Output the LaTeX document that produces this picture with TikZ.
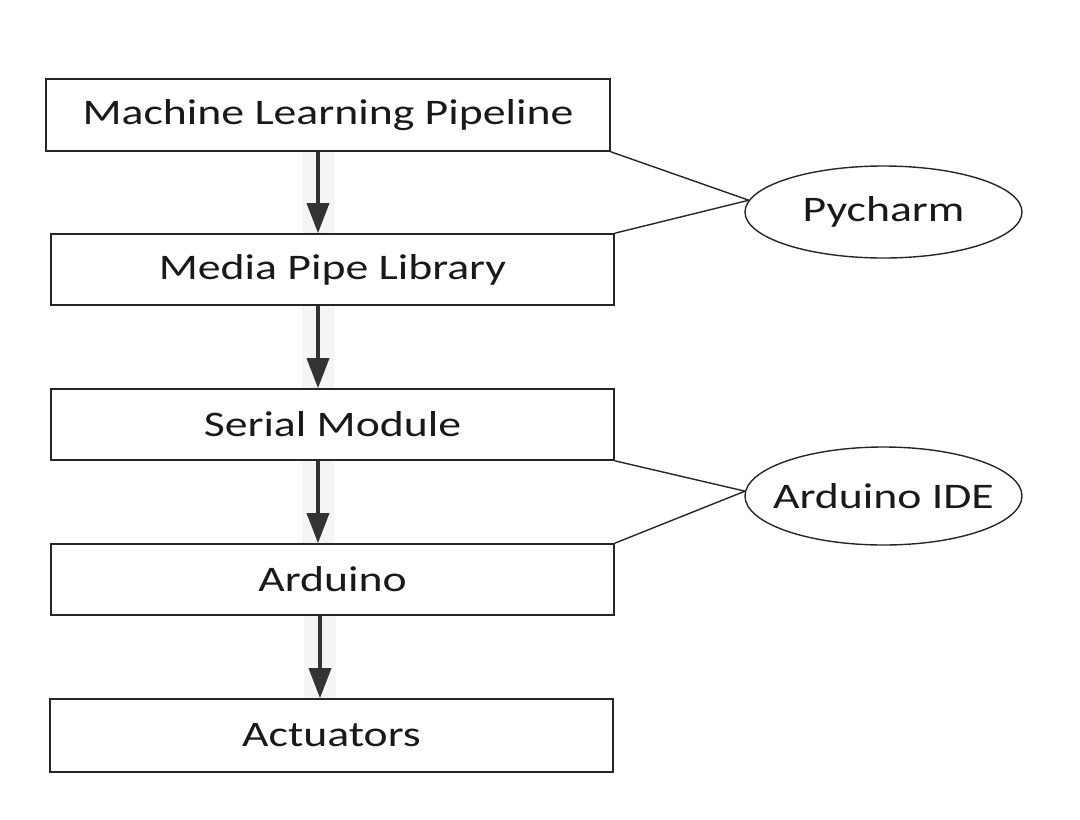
\documentclass[tikz,border=0pt]{standalone}
\usepackage{fontspec}
\setmainfont{Carlito}[FakeStretch=1.27]
\usetikzlibrary{arrows.meta,shapes.geometric,backgrounds}

\begin{document}
\begin{tikzpicture}[x=1pt, y=-1pt,
    every node/.style={font=\fontsize{36}{43}\selectfont, text=black!90},
    stage/.style={draw=black!85, line width=1.6pt, minimum width=563pt, minimum height=71pt, inner sep=0pt},
    tool/.style={ellipse, draw=black!85, line width=1.4pt, minimum width=277pt, inner xsep=-14pt, inner ysep=0pt},
    flow/.style={line width=3.5pt, black!80, -{Triangle[length=30pt,width=22pt]}},
    glow/.style={line width=32pt, black!4},
    link/.style={line width=1.4pt, black!85}]
\useasboundingbox (0,0) rectangle (1080,820);
\node (ml) at (328,115) [stage, minimum width=564pt, minimum height=72pt] {Machine Learning Pipeline};
\node (mp) at (332.5,269.5) [stage] {Media Pipe Library};
\node (sm) at (332.5,424.5) [stage] {Serial Module};
\node (ard) at (332.5,579.5) [stage] {Arduino};
\node (act) at (331.5,735.5) [stage, minimum height=73pt] {Actuators};
\node (pyc) at (883.5,212) [tool, minimum height=92pt] {Pycharm};
\node (ide) at (883.5,496) [tool, minimum height=98pt] {Arduino IDE};

% faint shading behind the arrows
\begin{scope}[on background layer]
\draw[glow] ([xshift=-10pt]ml.south) -- ([xshift=-14.5pt]mp.north);
\draw[glow] ([xshift=-14.5pt]mp.south) -- ([xshift=-14.5pt]sm.north);
\draw[glow] ([xshift=-14.5pt]sm.south) -- ([xshift=-14.5pt]ard.north);
\draw[glow] ([xshift=-12.5pt]ard.south) -- ([xshift=-11.5pt]act.north);
\end{scope}

\draw[flow] ([xshift=-10pt]ml.south) -- ([xshift=-14.5pt]mp.north);
\draw[flow] ([xshift=-14.5pt]mp.south) -- ([xshift=-14.5pt]sm.north);
\draw[flow] ([xshift=-14.5pt]sm.south) -- ([xshift=-14.5pt]ard.north);
\draw[flow] ([xshift=-12.5pt]ard.south) -- ([xshift=-11.5pt]act.north);

\draw[link] (ml.south east) -- (pyc.175);
\draw[link] (mp.north east) -- (pyc.175);
\draw[link] (sm.south east) -- (ide.178);
\draw[link] (ard.north east) -- (ide.178);
\end{tikzpicture}
\end{document}
